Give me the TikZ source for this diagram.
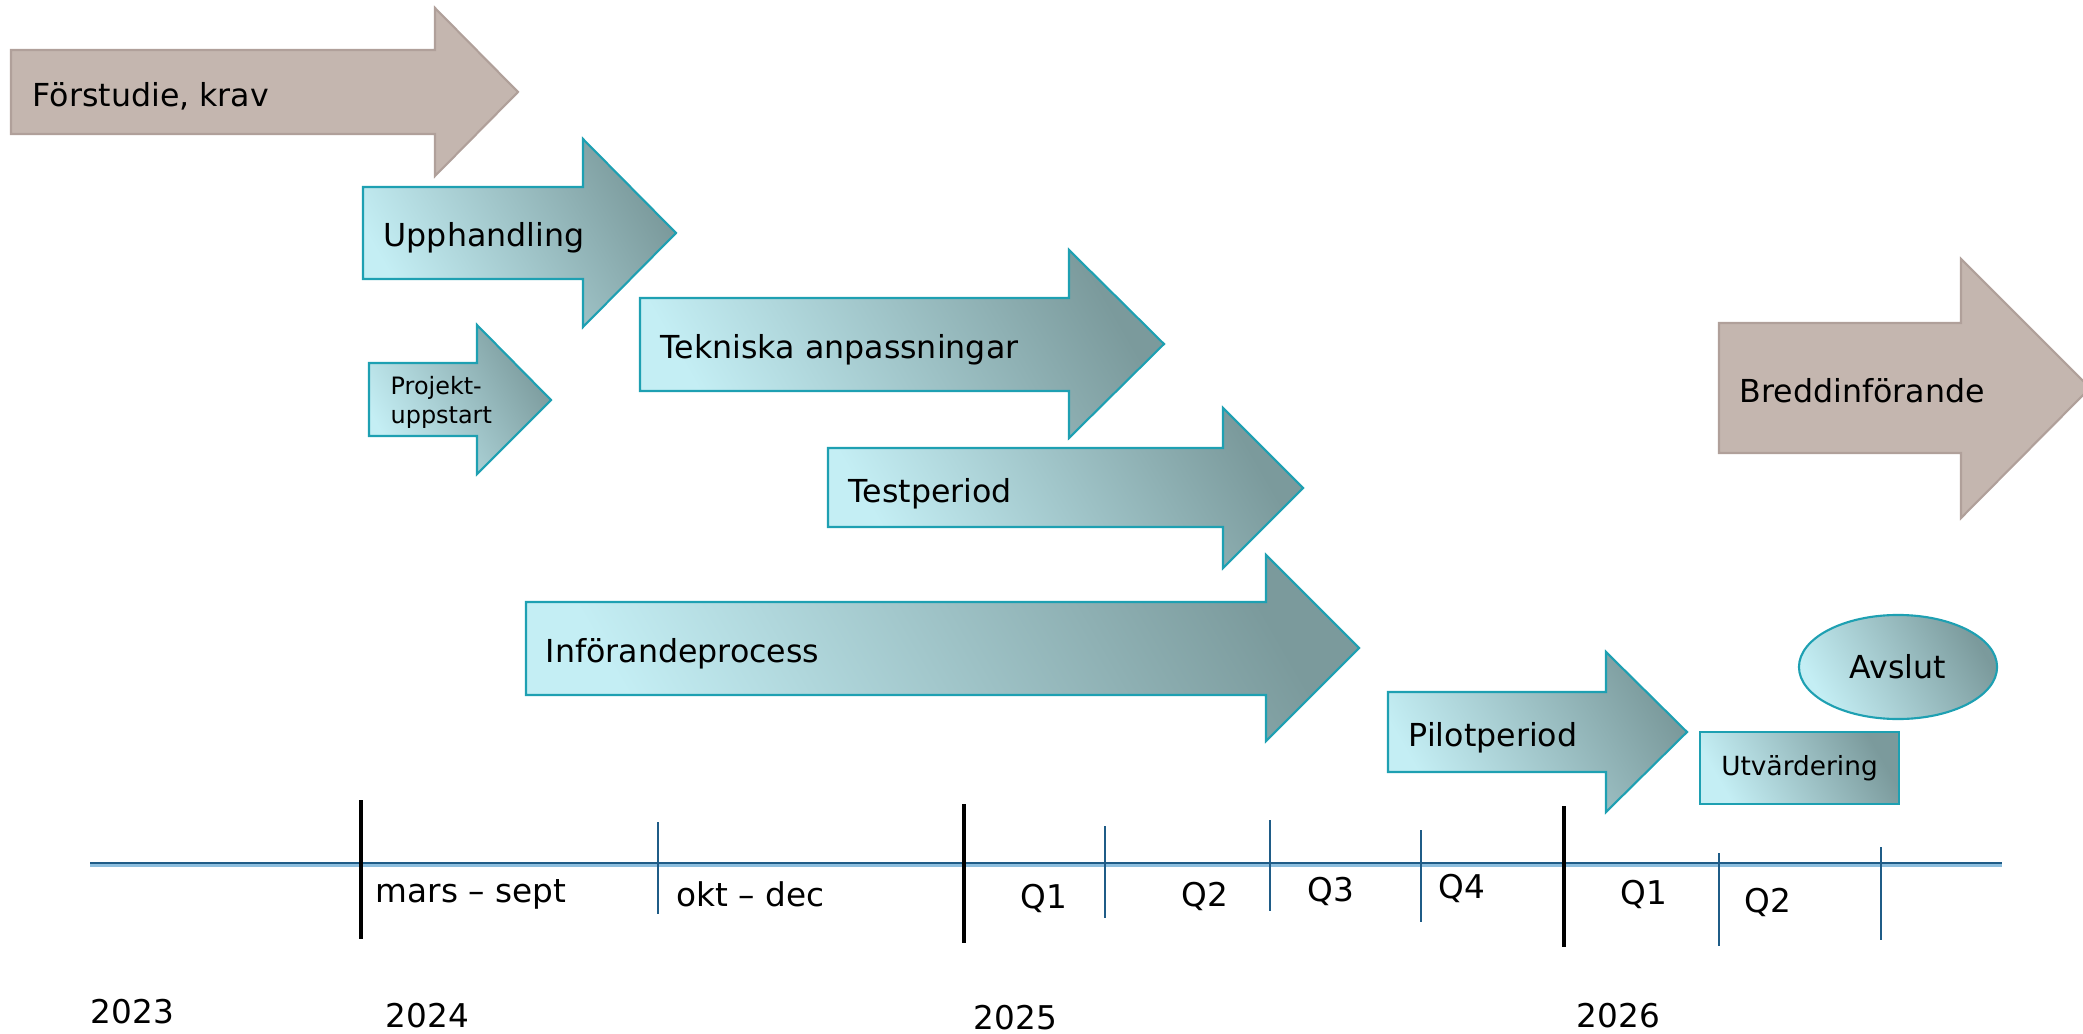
\documentclass[tikz,border=0pt]{standalone}
\usepackage{fontspec}
\setmainfont{DejaVu Sans}
\usetikzlibrary{shapes.geometric}

\definecolor{phasebrown}{RGB}{196,182,175}
\definecolor{phasebrownedge}{RGB}{176,160,154}
\definecolor{phaselight}{RGB}{196,238,244}
\definecolor{phasedark}{RGB}{123,154,156}
\definecolor{phaseedge}{RGB}{30,160,178}
\definecolor{axisdark}{RGB}{31,92,135}
\definecolor{axislight}{RGB}{140,190,222}

\begin{document}
\begin{tikzpicture}[
		x=0.01cm, y=-0.01cm,
		% Brown arrows for the phases outside the project
		brownarrow/.style={fill=phasebrown, draw=phasebrownedge, line width=0.6pt},
		% Shaded arrows for the project phases
		bluearrow/.style={draw=phaseedge, line width=0.6pt, top color=phasedark, bottom color=phaselight, shading angle=-60},
		% Typography
		phaselabel/.style={anchor=west, inner sep=0pt, font=\fontsize{9}{11}\selectfont},
		smalllabel/.style={anchor=west, inner sep=0pt, align=left, font=\fontsize{6.8}{8.3}\selectfont},
		ticklabel/.style={anchor=west, inner sep=0pt, font=\fontsize{9.3}{11}\selectfont},
		yeartick/.style={line width=1.4pt, black},
		quartertick/.style={line width=0.35pt, axisdark}
		]
		
		\useasboundingbox (0,0) rectangle (2083,1034);
		
		% =========================================================================
		% PREPARATION: Brown arrow (Top-Left)
		% =========================================================================
		\draw[brownarrow] (11,50) -- (435,50) -- (435,8) -- (518,92) -- (435,176) -- (435,134) -- (11,134) -- cycle;
		\node[phaselabel] (forstudie) at (32,96) {Förstudie, krav};
		
		% =========================================================================
		% PROJECT PHASES: Shaded arrows
		% =========================================================================
		\draw[bluearrow] (363,187) -- (583,187) -- (583,139) -- (676,233) -- (583,327) -- (583,279) -- (363,279) -- cycle;
		\node[phaselabel] (upphandling) at (383,238) {Upphandling};
		
		\draw[bluearrow] (369,363) -- (477,363) -- (477,325) -- (551,400) -- (477,474) -- (477,436) -- (369,436) -- cycle;
		\node[smalllabel] (uppstart) at (390,402) {Projekt-\\uppstart};
		
		\draw[bluearrow] (640,298) -- (1069,298) -- (1069,250) -- (1164,344) -- (1069,438) -- (1069,391) -- (640,391) -- cycle;
		\node[phaselabel] (tekniska) at (660,350) {Tekniska anpassningar};
		
		\draw[bluearrow] (828,448) -- (1223,448) -- (1223,408) -- (1303,488) -- (1223,568) -- (1223,527) -- (828,527) -- cycle;
		\node[phaselabel] (testperiod) at (848,494) {Testperiod};
		
		\draw[bluearrow] (526,602) -- (1266,602) -- (1266,555) -- (1359,648) -- (1266,741) -- (1266,695) -- (526,695) -- cycle;
		\node[phaselabel] (inforande) at (545,654) {Införandeprocess};
		
		\draw[bluearrow] (1388,692) -- (1606,692) -- (1606,652) -- (1687,732) -- (1606,812) -- (1606,772) -- (1388,772) -- cycle;
		\node[phaselabel] (pilot) at (1408,738) {Pilotperiod};
		
		\node[bluearrow, rectangle, minimum width=1.99cm, minimum height=0.72cm, inner sep=0pt, font=\fontsize{7.5}{9}\selectfont] (utvardering) at (1799.5,768) {Utvärdering};
		\node[bluearrow, ellipse, minimum width=1.98cm, minimum height=1.04cm, inner sep=0pt, font=\fontsize{9}{11}\selectfont] (avslut) at (1898,667) {Avslut};
		
		% =========================================================================
		% ROLL-OUT: Brown arrow (Right, cut by the page edge)
		% =========================================================================
		\draw[brownarrow] (1719,323) -- (1961,323) -- (1961,259) -- (2090,388) -- (1961,518) -- (1961,453) -- (1719,453) -- cycle;
		\node[phaselabel] (bredd) at (1739,391) {Breddinförande};
		
		% =========================================================================
		% TIME AXIS
		% =========================================================================
		\draw[line width=0.6pt, axislight] (90,865.5) -- (2002,865.5);
		\draw[line width=0.6pt, axisdark] (90,863) -- (2002,863);
		
		\draw[yeartick] (361,800) -- (361,939);
		\draw[yeartick] (964,804) -- (964,943);
		\draw[yeartick] (1564,806) -- (1564,947);
		
		\draw[quartertick] (658,822) -- (658,914);
		\draw[quartertick] (1105,826) -- (1105,918);
		\draw[quartertick] (1270,820) -- (1270,911);
		\draw[quartertick] (1421,830) -- (1421,922);
		\draw[quartertick] (1719,853) -- (1719,946);
		\draw[quartertick] (1881,847) -- (1881,940);
		
		\node[ticklabel] (marssept) at (375,894) {mars – sept};
		\node[ticklabel] (oktdec) at (676,894) {okt – dec};
		\node[ticklabel] (qone) at (1020,898) {Q1};
		\node[ticklabel] (qtwo) at (1181,896) {Q2};
		\node[ticklabel] (qthree) at (1307,891) {Q3};
		\node[ticklabel] (qfour) at (1438,888) {Q4};
		\node[ticklabel] (qonenext) at (1620,894) {Q1};
		\node[ticklabel] (qtwonext) at (1744,902) {Q2};
		
		\node[ticklabel] (yearA) at (90,1012) {2023};
		\node[ticklabel] (yearB) at (385,1016) {2024};
		\node[ticklabel] (yearC) at (973,1018) {2025};
		\node[ticklabel] (yearD) at (1576,1016) {2026};
		
	\end{tikzpicture}
\end{document}
